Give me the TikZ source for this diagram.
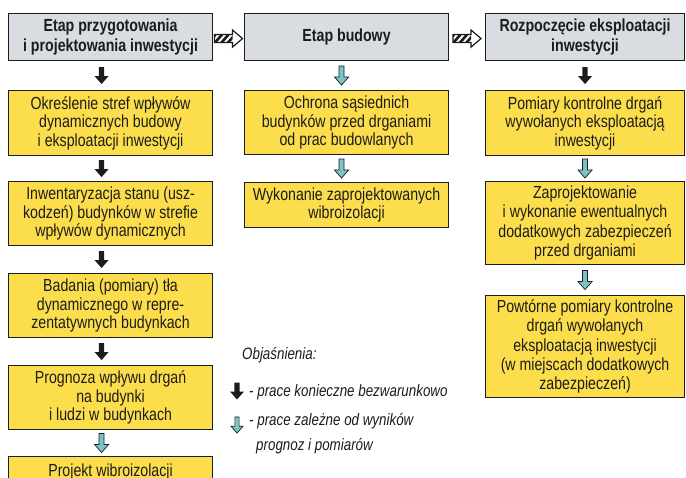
\documentclass[tikz,border=0pt]{standalone}
\usepackage{fontspec}
\setmainfont[FakeStretch=0.81]{Liberation Sans}
\definecolor{hdr}{RGB}{217,220,224}
\definecolor{ylw}{RGB}{252,222,76}
\definecolor{cyn}{RGB}{121,197,198}
\definecolor{ink}{RGB}{28,28,28}
\tikzset{
  box/.style={draw=ink, line width=1.1pt, anchor=north west, inner sep=0pt,
    align=center, text=ink, font=\fontsize{17.5}{18.5}\selectfont},
  hd/.style={box, fill=hdr, minimum height=47pt, font=\bfseries\fontsize{17.5}{19.5}\selectfont},
  yb/.style={box, fill=ylw},
  legt/.style={anchor=west, inner sep=0pt, text=ink, font=\itshape\fontsize{16.5}{17}\selectfont},
  blackarr/.pic={\fill[ink] (-2.6,-8.5) -- (2.6,-8.5) -- (2.6,0.5) -- (7,0.5) -- (0,8.5) -- (-7,0.5) -- (-2.6,0.5) -- cycle;},
  cyanarr/.pic={\filldraw[fill=cyn, draw=ink, line width=0.7pt, line join=miter]
     (-2.5,-9.5) -- (2.5,-9.5) -- (2.5,1.5) -- (7,1.5) -- (0,9.5) -- (-7,1.5) -- (-2.5,1.5) -- cycle;},
  hatcharr/.pic={
     \fill[white] (-14,-4) -- (4,-4) -- (4,-8.5) -- (14,0) -- (4,8.5) -- (4,4) -- (-14,4) -- cycle;
     \begin{scope}
       \clip (-14,-4) rectangle (4,4);
       \foreach \s in {-20,-13.5,...,8} \draw[ink, line width=2.6pt] (\s,4) -- (\s+7,-4);
     \end{scope}
     \draw[ink, line width=1.2pt, line join=miter] (-14,-4) -- (4,-4) -- (4,-8.5) -- (14,0) -- (4,8.5) -- (4,4) -- (-14,4) -- cycle;}
}
\begin{document}
\begin{tikzpicture}[x=1pt,y=-1pt]
\useasboundingbox (0,0) rectangle (686,477);
\clip (0,0) rectangle (686,477);
\fill[white] (0,0) rectangle (686,477);

% column 1
\node[hd, minimum width=204pt] (h1) at (8,13) {Etap przygotowania\\i projektowania inwestycji};
\node[yb, minimum width=204pt, minimum height=65pt] (b1) at (8,90) {Określenie stref wpływów\\dynamicznych budowy\\i eksploatacji inwestycji};
\node[yb, minimum width=204pt, minimum height=64pt] (b2) at (8,181) {Inwentaryzacja stanu (usz-\\kodzeń) budynków w strefie\\wpływów dynamicznych};
\node[yb, minimum width=204pt, minimum height=64pt] (b3) at (8,273) {Badania (pomiary) tła\\dynamicznego w repre-\\zentatywnych budynkach};
\node[yb, minimum width=204pt, minimum height=64pt] (b4) at (8,365) {Prognoza wpływu drgań\\na budynki\\i ludzi w budynkach};
\node[yb, minimum width=204pt, minimum height=30pt] (b5) at (8,456) {Projekt wibroizolacji};

% column 2
\node[hd, minimum width=204pt] (h2) at (244,13) {Etap budowy};
\node[yb, minimum width=204pt, minimum height=64pt] (c1) at (244,90) {Ochrona sąsiednich\\budynków przed drganiami\\od prac budowlanych};
\node[yb, minimum width=204pt, minimum height=45pt] (c2) at (244,182) {Wykonanie zaprojektowanych\\wibroizolacji};

% column 3
\node[hd, minimum width=199pt] (h3) at (485,13) {Rozpoczęcie eksploatacji\\inwestycji};
\node[yb, minimum width=199pt, minimum height=65pt] (d1) at (485,90) {Pomiary kontrolne drgań\\wywołanych eksploatacją\\inwestycji};
\node[yb, minimum width=199pt, minimum height=83pt, font=\fontsize{17.5}{19.5}\selectfont] (d2) at (485,181) {Zaprojektowanie\\i wykonanie ewentualnych\\dodatkowych zabezpieczeń\\przed drganiami};
\node[yb, minimum width=199pt, minimum height=102pt, font=\fontsize{17.5}{19.3}\selectfont] (d3) at (485,295) {Powtórne pomiary kontrolne\\drgań wywołanych\\eksploatacją inwestycji\\(w miejscach dodatkowych\\zabezpieczeń)};

% horizontal hatched arrows
\path (h1.east) -- (h2.west) coordinate[pos=.5] (m12);
\path (h2.east) -- (h3.west) coordinate[pos=.5] (m23);
\pic at ([yshift=-1.5pt]m12) {hatcharr};
\pic at ([yshift=-1.5pt]m23) {hatcharr};

% column 1 arrows
\path (h1.south) -- (b1.north) coordinate[pos=.5] (a1);
\path (b1.south) -- (b2.north) coordinate[pos=.5] (a2);
\path (b2.south) -- (b3.north) coordinate[pos=.5] (a3);
\path (b3.south) -- (b4.north) coordinate[pos=.5] (a4);
\path (b4.south) -- (b5.north) coordinate[pos=.5] (a5);
\pic at ([xshift=-9pt]a1) {blackarr};
\pic at ([xshift=-9pt]a2) {blackarr};
\pic at ([xshift=-9pt]a3) {blackarr};
\pic at ([xshift=-9pt]a4) {blackarr};
\pic at ([xshift=-9pt]a5) {cyanarr};

% column 2 arrows
\path (h2.south) -- (c1.north) coordinate[pos=.5] (e1);
\path (c1.south) -- (c2.north) coordinate[pos=.5] (e2);
\pic at ([xshift=-5pt]e1) {cyanarr};
\pic at ([xshift=-5pt]e2) {cyanarr};

% column 3 arrows
\path (h3.south) -- (d1.north) coordinate[pos=.5] (f1);
\path (d1.south) -- (d2.north) coordinate[pos=.5] (f2);
\path (d2.south) -- (d3.north) coordinate[pos=.5] (f3);
\pic at (f1) {blackarr};
\pic at (f2) {cyanarr};
\pic at (f3) {cyanarr};

% legend
\node[legt] (leg) at (242,355) {Objaśnienia:};
\coordinate (k1) at (237,391);
\coordinate (k2) at (237,425);
\pic at (k1) {blackarr};
\pic[scale=0.85] at (k2) {cyanarr};
\node[legt] (l1) at (249,392) {- prace konieczne bezwarunkowo};
\node[legt] (l2) at (249,421) {- prace zależne od wyników};
\node[legt] (l3) at (256,446) {prognoz i pomiarów};
\end{tikzpicture}
\end{document}
